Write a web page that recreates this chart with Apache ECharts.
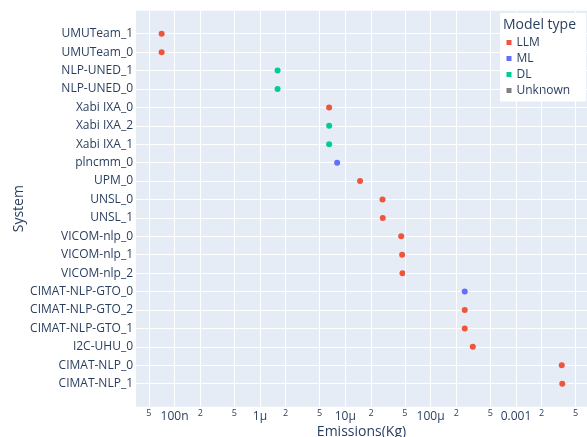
<!DOCTYPE html>
<html>
<head>
<meta charset="utf-8">
<title>Emissions per system</title>
<script src="https://cdn.jsdelivr.net/npm/echarts@6.0.0/dist/echarts.min.js"></script>
<style>
	html, body { margin: 0; padding: 0; background: #fff; }
	#main { width: 587px; height: 437px; }
</style>
</head>
<body>
<div id="main"></div>
<script type="text/javascript">
	// systems, top to bottom
	var systems = ['UMUTeam_1', 'UMUTeam_0', 'NLP-UNED_1', 'NLP-UNED_0', 'Xabi IXA_0', 'Xabi IXA_2', 'Xabi IXA_1',
		'plncmm_0', 'UPM_0', 'UNSL_0', 'UNSL_1', 'VICOM-nlp_0', 'VICOM-nlp_1', 'VICOM-nlp_2',
		'CIMAT-NLP-GTO_0', 'CIMAT-NLP-GTO_2', 'CIMAT-NLP-GTO_1', 'I2C-UHU_0', 'CIMAT-NLP_0', 'CIMAT-NLP_1'];
	var emissions = [7.05e-8, 7.05e-8, 1.61e-6, 1.61e-6, 6.47e-6, 6.47e-6, 6.47e-6,
		8.03e-6, 1.49e-5, 2.73e-5, 2.75e-5, 4.52e-5, 4.64e-5, 4.68e-5,
		2.51e-4, 2.51e-4, 2.51e-4, 3.12e-4, 3.44e-3, 3.49e-3];
	var modelTypes = ['LLM', 'LLM', 'DL', 'DL', 'LLM', 'DL', 'DL',
		'ML', 'LLM', 'LLM', 'LLM', 'LLM', 'LLM', 'LLM',
		'ML', 'LLM', 'LLM', 'LLM', 'LLM', 'LLM'];
	var typeNames = ['LLM', 'ML', 'DL', 'Unknown'];
	var typeColors = ['#EF553B', '#636EFA', '#00CC96', '#808080'];

	// x axis tick labels (decades) and the small 2 / 5 ticks between them
	var majorTicks = { '-7': '100n', '-6': '1μ', '-5': '10μ', '-4': '100μ', '-3': '0.001' };
	var minorTicks = [5e-8, 2e-7, 5e-7, 2e-6, 5e-6, 2e-5, 5e-5, 2e-4, 5e-4, 2e-3, 5e-3];
	var minorLabels = ['5', '2', '5', '2', '5', '2', '5', '2', '5', '2', '5'];

	var txt = '#2a3f5f';
	var font = 'Open Sans';
	var yMin = -1.25, yMax = 20.25;
	var rowIndex = systems.map(function (s, i) { return i; });

	var series = typeNames.map(function (t, k) {
		var data = [];
		for (var i = 0; i < systems.length; i++) {
			if (modelTypes[i] === t) data.push([emissions[i], i]);
		}
		return {
			name: t,
			type: 'scatter',
			symbolSize: 6,
			z: 3,
			itemStyle: { color: typeColors[k], opacity: 1 },
			data: data
		};
	});

	// minor grid lines with their little labels under the axis
	series[0].markLine = {
		silent: true,
		animation: false,
		symbol: ['none', 'none'],
		lineStyle: { color: '#fff', width: 1, type: 'solid' },
		label: { show: true, position: 'end', fontSize: 9, color: txt, fontFamily: font, distance: 2 },
		data: minorTicks.map(function (v, i) {
			return [
				{ coord: [v, yMin] },
				{ coord: [v, yMax], label: { formatter: minorLabels[i] } }
			];
		})
	};

	var myChart = echarts.init(document.getElementById('main'));
	myChart.setOption({
		animation: false,
		textStyle: { fontFamily: font, color: txt },
		grid: {
			left: 136, top: 10.7, right: 0, bottom: 30.3,
			outerBoundsMode: 'none',
			containLabel: false,
			show: true, backgroundColor: '#E5ECF6', borderWidth: 0
		},
		title: {
			text: 'Model type',
			left: 503, top: 18,
			padding: 0,
			textStyle: { fontSize: 14, fontWeight: 'normal', color: txt, fontFamily: font }
		},
		legend: {
			orient: 'vertical',
			left: 500, top: 13,
			padding: [21.5, 16, 3, 6.5],
			backgroundColor: '#fff',
			icon: 'rect',
			itemWidth: 5, itemHeight: 5,
			itemGap: 0,
			selectedMode: false,
			textStyle: { fontSize: 12, color: txt, fontFamily: font, lineHeight: 16 },
			data: typeNames
		},
		xAxis: {
			type: 'log',
			logBase: 10,
			min: 3.53e-8,
			max: 6.8e-3,
			name: 'Emissions(Kg)',
			nameLocation: 'middle',
			nameMoveOverlap: false,
			nameGap: 18,
			nameTextStyle: { fontSize: 14, color: txt, fontFamily: font },
			axisLine: { show: false },
			axisTick: { show: false },
			axisLabel: {
				fontSize: 12, color: txt, margin: 4,
				showMinLabel: false, showMaxLabel: false,
				formatter: function (v) {
					var e = Math.round(Math.log10(v));
					return majorTicks[e] || '';
				}
			},
			splitLine: { show: true, showMinLine: false, showMaxLine: false, lineStyle: { color: '#fff', width: 1 } }
		},
		yAxis: {
			type: 'value',
			inverse: true,
			min: yMin,
			max: yMax,
			name: 'System',
			nameLocation: 'middle',
			nameMoveOverlap: false,
			nameGap: 110,
			nameTextStyle: { fontSize: 14, color: txt, fontFamily: font },
			axisLine: { show: false },
			axisTick: { show: false, customValues: rowIndex },
			axisLabel: {
				customValues: rowIndex,
				fontSize: 12, color: txt, margin: 3,
				formatter: function (v) { return systems[Math.round(v)]; }
			},
			splitLine: { show: true, lineStyle: { color: '#fff', width: 1 } }
		},
		series: series
	});
</script>
</body>
</html>
